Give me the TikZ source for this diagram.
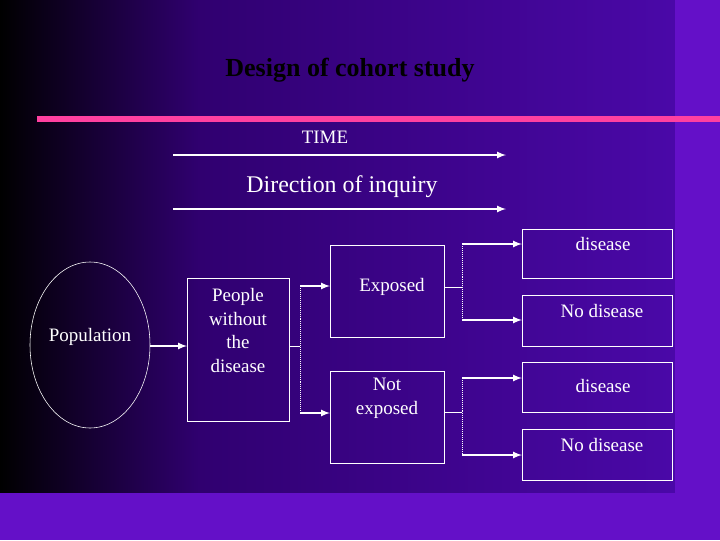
\documentclass[tikz,border=0pt]{standalone}
\usepackage{fontspec}
\setmainfont{Liberation Serif}
\usetikzlibrary{calc,shapes,arrows}
\definecolor{bgpurple}{HTML}{4A08A8}
\definecolor{bgmid}{HTML}{300070}
\definecolor{stripcol}{HTML}{6410C8}
\definecolor{pinkline}{HTML}{FF40A0}
\tikzset{
  box/.style = {draw = white, thin, inner sep = 0pt, anchor = north west},
  txt/.style = {text = white, font = \fontsize{13.5}{17}\selectfont, align = center},
  arr/.style = {white, very thick, -latex},
  dotline/.style = {white, densely dotted, thin}
}

\begin{document}
\begin{tikzpicture}[x=0.025cm, y=-0.025cm]
  \useasboundingbox (0,0) rectangle (720,540);
  \shade [left color = black, right color = bgmid] (0,0) rectangle (200,493);
  \shade [left color = bgmid, right color = bgpurple] (200,0) rectangle (675,493);
  \fill [stripcol] (675,0) rectangle (720,540);
  \fill [stripcol] (0,493) rectangle (720,540);
  \fill [pinkline] (37,116) rectangle (720,122);

  \node [text = black, font = \bfseries\fontsize{18.5}{22}\selectfont] (title) at (350,70) {Design of cohort study};
  \node [txt] (time) at (325,137) {TIME};
  \node [txt, font = \fontsize{17}{20}\selectfont] (dir) at (342,187) {Direction of inquiry};
  \coordinate (t1) at (173,155);
  \coordinate (t2) at (506,155);
  \coordinate (d1) at (173,209);
  \coordinate (d2) at (506,209);
  \draw [arr] (t1) -- (t2);
  \draw [arr] (d1) -- (d2);

  \draw [white, thin] (90,345) ellipse (60 and 83);
  \node [txt] (pop) at (90,337) {Population};
  \node [box, minimum width = 102*0.025cm, minimum height = 143*0.025cm] (people) at (187,278) {};
  \node [txt, anchor = north] (peopletxt) at (238,283) {People\\ without\\ the\\ disease};
  \draw [arr] (150,346) -- (people.west |- 0,346);

  \node [box, minimum width = 114*0.025cm, minimum height = 92*0.025cm] (exp) at (330,245) {};
  \node [box, minimum width = 114*0.025cm, minimum height = 92*0.025cm] (nexp) at (330,371) {};
  \node [txt] at (392,287) {Exposed};
  \node [txt] at (387,398) {Not\\ exposed};

  \node [box, minimum width = 150*0.025cm, minimum height = 49*0.025cm] (d1box) at (522,229) {};
  \node [box, minimum width = 150*0.025cm, minimum height = 51*0.025cm] (n1box) at (522,295) {};
  \node [box, minimum width = 150*0.025cm, minimum height = 50*0.025cm] (d2box) at (522,362) {};
  \node [box, minimum width = 150*0.025cm, minimum height = 51*0.025cm] (n2box) at (522,429) {};
  \node [txt] at (603,244) {disease};
  \node [txt] at (602,311) {No disease};
  \node [txt] at (603,386) {disease};
  \node [txt] at (602,445) {No disease};

  % split from people
  \draw [white, thin] (people.east |- 0,346) -- (300,346);
  \draw [dotline] (300,286) -- (300,413);
  \draw [arr] (300,286) -- (exp.west |- 0,286);
  \draw [arr] (300,413) -- (nexp.west |- 0,413);

  % split from exposed
  \draw [white, thin] (exp.east |- 0,287) -- (462,287);
  \draw [dotline] (462,244) -- (462,320);
  \draw [arr] (462,244) -- (d1box.west |- 0,244);
  \draw [arr] (462,320) -- (n1box.west |- 0,320);

  % split from not exposed
  \draw [white, thin] (nexp.east |- 0,412) -- (462,412);
  \draw [dotline] (462,378) -- (462,455);
  \draw [arr] (462,378) -- (d2box.west |- 0,378);
  \draw [arr] (462,455) -- (n2box.west |- 0,455);
\end{tikzpicture}
\end{document}
